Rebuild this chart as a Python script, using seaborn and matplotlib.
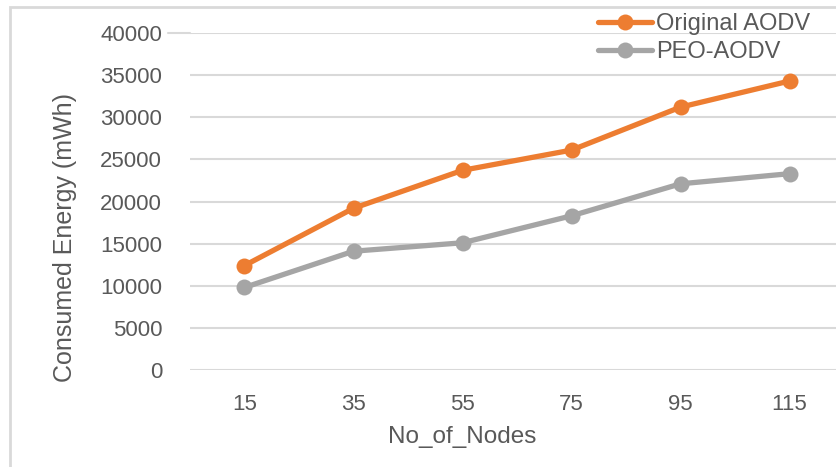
import numpy as np
import pandas as pd
import matplotlib
matplotlib.use("Agg")
import matplotlib.pyplot as plt
from matplotlib.patches import Rectangle
import seaborn as sns

# Data
nodes = [15, 35, 55, 75, 95, 115]
original_aodv = [12400, 19200, 23700, 26100, 31200, 34300]
peo_aodv = [9800, 14100, 15100, 18300, 22100, 23300]
series_names = ["Original AODV", "PEO-AODV"]
y_ticks = [0, 5000, 10000, 15000, 20000, 25000, 30000, 35000, 40000]

sns.set_theme(style="white")
plt.rcParams["font.family"] = ["Liberation Sans", "DejaVu Sans"]

text_color = "#595959"
grid_color = "#D9D9D9"
palette = {"Original AODV": "#ED7D31", "PEO-AODV": "#A5A5A5"}

pos = np.arange(len(nodes))
df = pd.DataFrame({
    "pos": np.concatenate([pos, pos]),
    "energy": original_aodv + peo_aodv,
    "series": [series_names[0]] * len(nodes) + [series_names[1]] * len(nodes),
})

W, H = 837, 467
fig = plt.figure(figsize=(W / 100, H / 100), dpi=100)
ax = fig.add_axes([190 / W, 1 - 370 / H, 654 / W, 337 / H])

# outer chart border
fig.patches.append(Rectangle((10 / W, -0.1), 1.2, 1 - 7 / H + 0.1,
                             transform=fig.transFigure, fill=False,
                             edgecolor=grid_color, linewidth=2))

sns.lineplot(data=df, x="pos", y="energy", hue="series", palette=palette,
             marker="o", markersize=11.5, markeredgewidth=0, linewidth=3.8,
             ax=ax, clip_on=False, zorder=3)

ax.set_xlim(-0.5, len(nodes) - 0.5)
ax.set_ylim(0, 40000)
ax.set_yticks(y_ticks)
ax.set_yticklabels([str(v) for v in y_ticks])
ax.set_xticks(pos)
ax.set_xticklabels([str(n) for n in nodes])
ax.yaxis.grid(True, color=grid_color, linewidth=1.5)
ax.xaxis.grid(False)
# top gridline runs a little further left, up to its label
ax.axhline(y_ticks[-1], xmin=-22 / 654, xmax=0, color=grid_color,
           linewidth=1.5, clip_on=False)
for s in ax.spines.values():
    s.set_visible(False)
ax.tick_params(axis="both", length=0, labelsize=16, colors=text_color)
ax.tick_params(axis="y", pad=20)
ax.tick_params(axis="x", pad=17)
ax.set_xlabel("No_of_Nodes", fontsize=17.5, color=text_color)
ax.xaxis.set_label_coords(462 / W, 1 - 437 / H, transform=fig.transFigure)
ax.xaxis.label.set_va("center")
ax.set_ylabel("Consumed Energy (mWh)", fontsize=18, color=text_color)
ax.yaxis.set_label_coords(65 / W, 1 - 237 / H, transform=fig.transFigure)
ax.yaxis.label.set_va("center")

leg = ax.legend(loc="upper left", bbox_to_anchor=(598 / W, 1 - 13 / H),
                bbox_transform=fig.transFigure, frameon=False, fontsize=17,
                handlelength=2.3, handletextpad=0.15, labelspacing=0.25,
                borderaxespad=0, borderpad=0)
for t in leg.get_texts():
    t.set_color(text_color)

fig.savefig("out.png", dpi=100)
